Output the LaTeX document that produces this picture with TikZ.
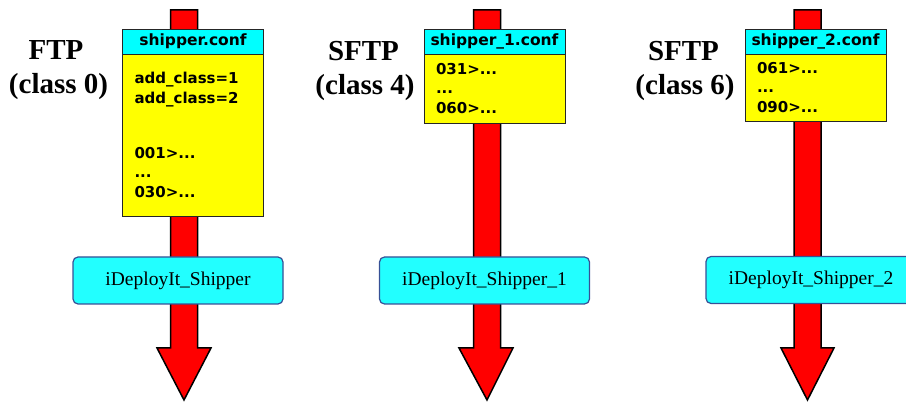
\documentclass[tikz,border=0pt]{standalone}
\usepackage{fontspec}
\setmainfont{Liberation Serif}
\newfontfamily\conffont{DejaVu Sans}
\usetikzlibrary{positioning}

\tikzset{
  shaft/.style={draw=black, line width=1.5pt, fill=shaftred, line join=miter},
  protolabel/.style={anchor=base, font=\fontsize{29}{32}\selectfont\bfseries},
  confhead/.style={draw=black!85, line width=0.8pt, fill=headcyan, outer sep=0pt, inner sep=0pt,
    minimum width=141pt, minimum height=25pt, font=\conffont\bfseries\fontsize{15.5}{17}\selectfont},
  confbody/.style={draw=black!85, line width=0.8pt, fill=bodyyellow, outer sep=0pt, inner xsep=12pt,
    text width=117pt, align=left, font=\conffont\bfseries\fontsize{15}{19.5}\selectfont},
  shipperbox/.style={draw=shipperborder, line width=1.2pt, fill=shippercyan, rounded corners=5pt,
    minimum width=210pt, minimum height=47pt, font=\fontsize{19.5}{22}\selectfont}
}

\begin{document}
\begin{tikzpicture}[x=1pt, y=-1pt]

\definecolor{shaftred}{RGB}{255, 0, 0}
\definecolor{headcyan}{RGB}{0, 255, 255}
\definecolor{bodyyellow}{RGB}{255, 255, 0}
\definecolor{shippercyan}{RGB}{34, 255, 255}
\definecolor{shipperborder}{RGB}{55, 80, 150}

\useasboundingbox (0, 0) rectangle (906, 403);

\draw[shaft] (170.5, 10) -- (197.5, 10) -- (197.5, 348) -- (211, 348) -- (184, 400)
  -- (157, 348) -- (170.5, 348) -- cycle;
\draw[shaft] (473.5, 10) -- (500.5, 10) -- (500.5, 348) -- (513, 348) -- (487, 400)
  -- (459, 348) -- (473.5, 348) -- cycle;
\draw[shaft] (794, 10) -- (821, 10) -- (821, 348) -- (834, 348) -- (807.5, 400)
  -- (781, 348) -- (794, 348) -- cycle;

\node[protolabel] (ftp) at (56, 60) {FTP};
\node[protolabel] (ftpclass) at (58.5, 94) {(class 0)};
\node[protolabel] (sftpa) at (363.5, 61) {SFTP};
\node[protolabel] (sftpaclass) at (365, 95) {(class 4)};
\node[protolabel] (sftpb) at (683.5, 61) {SFTP};
\node[protolabel] (sftpbclass) at (685, 95) {(class 6)};

\node[confhead] (conf) at (193, 41.5) {shipper.conf};
\node[confbody, minimum height=162pt, below=0pt of conf] (confbody)
  {add\_class=1\\ add\_class=2\\[35.5pt] 001>...\\ ...\\ 030>...};

\node[confhead] (confa) at (494.5, 41.5) {shipper\_1.conf};
\node[confbody, minimum height=69pt, below=0pt of confa] (confabody)
  {031>...\\ ...\\ 060>...};

\node[confhead] (confb) at (815.5, 41.5) {shipper\_2.conf};
\node[confbody, minimum height=67pt, below=0pt of confb] (confbbody)
  {061>...\\ ...\\ 090>...};

\node[shipperbox] (shipper) at (178, 280.5) {iDeployIt\_Shipper};
\node[shipperbox] (shippera) at (484.5, 280.5) {iDeployIt\_Shipper\_1};
\node[shipperbox] (shipperb) at (811, 280) {iDeployIt\_Shipper\_2};

\end{tikzpicture}
\end{document}
